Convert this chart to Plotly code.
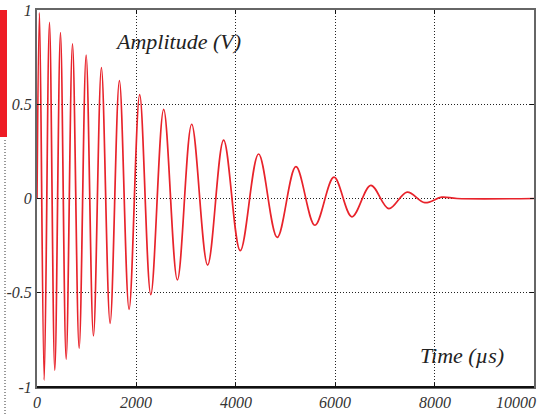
import plotly.graph_objects as go

# ---- data (extrema of the damped oscillation) ----
time_us = [0, 50, 145, 251, 358, 472, 587, 714, 848, 989, 1136, 1296, 1471, 1658,
           1853, 2066, 2290, 2549, 2825, 3112, 3433, 3755, 4090, 4458, 4834, 5210,
           5592, 5975, 6336, 6717, 7079, 7447, 7803, 8145, 8450, 10000]
amplitude_v = [0, 0.986, -0.963, 0.935, -0.912, 0.88, -0.853, 0.82, -0.795, 0.761,
               -0.729, 0.694, -0.662, 0.625, -0.588, 0.551, -0.51, 0.473, -0.432,
               0.394, -0.353, 0.310, -0.277, 0.236, -0.206, 0.169, -0.142, 0.113,
               -0.097, 0.070, -0.054, 0.034, -0.022, 0.007, 0, 0]

x_tick_vals = [0, 2000, 4000, 6000, 8000, 10000]
x_tick_text = ["0", "2000", "4000", "6000", "8000", "10000"]
y_tick_vals = [1, 0.5, 0, -0.5, -1]
y_tick_text = ["1", "0.5", "0", "-0.5", "-1"]

W, H = 539, 414
ML, MR, MT, MB = 37, 5, 10, 27
PW, PH = W - ML - MR, H - MT - MB


def px_x(p):
    return (p - ML) / PW


def px_y(p):
    return (H - MB - p) / PH


FONT = "Liberation Serif"
RED = "#e8232b"

fig = go.Figure()
fig.add_trace(go.Scatter(
    x=time_us, y=amplitude_v, mode="lines",
    line=dict(color=RED, width=1.7, shape="spline", smoothing=1.0),
    hoverinfo="skip", showlegend=False,
))

annotations = []
for v, t in zip(x_tick_vals, x_tick_text):
    a = dict(x=v, y=px_y(402), xref="x", yref="paper", text="<i>%s</i>" % t,
             showarrow=False, font=dict(family=FONT, size=16, color="#333"),
             yanchor="middle", xanchor="center")
    if v == x_tick_vals[-1]:
        a["xanchor"] = "right"
        a["xshift"] = 4
    annotations.append(a)

annotations.append(dict(x=px_x(113), y=px_y(42), xref="paper", yref="paper",
                        text="<i>Amplitude (V)</i>", showarrow=False, xanchor="left",
                        yanchor="middle",
                        font=dict(family=FONT, size=22, color="#222")))
annotations.append(dict(x=px_x(506), y=px_y(355), xref="paper", yref="paper",
                        text="<i>Time (µs)</i>", showarrow=False, xanchor="right",
                        yanchor="middle",
                        font=dict(family=FONT, size=22, color="#222")))

shapes = [
    # red bar decoration at far left
    dict(type="rect", xref="paper", yref="paper", x0=px_x(0), x1=px_x(7),
         y0=px_y(137), y1=px_y(10), fillcolor="#ee1c25", line=dict(width=0),
         layer="above"),
    # dotted vertical line at far left
    dict(type="line", xref="paper", yref="paper", x0=px_x(5), x1=px_x(5),
         y0=px_y(414), y1=px_y(139), line=dict(color="#333", width=1, dash="1px,2px")),
    # black bottom frame line
    dict(type="line", xref="paper", yref="paper", x0=0, x1=1, y0=0, y1=0,
         line=dict(color="#111", width=2), layer="above"),
]

fig.update_layout(
    width=W, height=H,
    margin=dict(l=ML, r=MR, t=MT, b=MB, pad=0, autoexpand=False),
    paper_bgcolor="white", plot_bgcolor="white",
    annotations=annotations, shapes=shapes,
    font=dict(family=FONT, color="#333"),
)
fig.update_xaxes(
    range=[0, 10000], tickvals=x_tick_vals, showticklabels=False, automargin=False,
    showgrid=True, gridcolor="#222", griddash="1px,2px", gridwidth=1,
    showline=True, linecolor="#666", linewidth=2, mirror="ticks",
    ticks="inside", ticklen=4, tickcolor="#111", zeroline=False,
)
fig.update_yaxes(
    range=[-1, 1], tickvals=y_tick_vals,
    ticktext=["<i>%s</i>" % t for t in y_tick_text], automargin=False,
    tickfont=dict(family=FONT, size=16, color="#333"),
    showgrid=True, gridcolor="#222", griddash="1px,2px", gridwidth=1,
    showline=True, linecolor="#666", linewidth=2, mirror="ticks",
    ticks="inside", ticklen=4, tickcolor="#111", zeroline=False,
)

fig.write_html(
    "out.html",
    config={"displayModeBar": False},
    post_script="document.body.style.margin='0px';document.body.style.overflow='hidden';",
)
